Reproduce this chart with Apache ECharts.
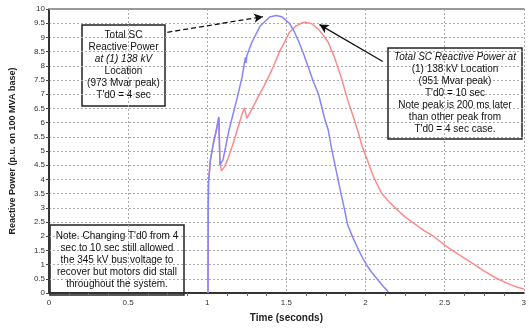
<!DOCTYPE html>
<html><head><meta charset="utf-8">
<script src="https://cdn.jsdelivr.net/npm/echarts@6/dist/echarts.min.js"></script>
<style>html,body{margin:0;padding:0;background:#fff}#c{width:529px;height:328px}</style>
</head><body><div id="c"></div>
<script>
// Time (s) and reactive power (p.u. on 100 MVA base)
const redTd10 = [[1.005,0],[1.006,2.8],[1.008,3.9],[1.02,4.7],[1.04,5.3],[1.06,5.8],[1.073,6.2],[1.08,4.6],[1.09,4.3],[1.11,4.45],[1.13,4.72],[1.16,5.2],[1.19,5.75],[1.22,6.3],[1.235,6.52],[1.25,6.15],[1.28,6.45],[1.32,6.89],[1.36,7.3],[1.394,7.69],[1.42,8.0],[1.456,8.49],[1.49,8.85],[1.518,9.17],[1.56,9.4],[1.6,9.52],[1.62,9.53],[1.66,9.48],[1.7,9.3],[1.73,9.1],[1.764,8.83],[1.8,8.35],[1.846,7.6],[1.887,6.8],[1.92,6.25],[1.949,5.75],[1.98,5.15],[2.01,4.7],[2.05,4.1],[2.103,3.5],[2.15,3.2],[2.195,2.96],[2.25,2.68],[2.308,2.44],[2.37,2.2],[2.431,1.99],[2.513,1.63],[2.59,1.35],[2.667,1.08],[2.75,0.77],[2.83,0.51],[2.9,0.33],[2.96,0.2],[3.0,0.14]];
const blueTd4 = [[1.005,0],[1.006,2.8],[1.008,3.9],[1.02,4.7],[1.04,5.3],[1.06,5.8],[1.073,6.2],[1.08,4.5],[1.10,4.7],[1.138,5.75],[1.19,6.89],[1.22,7.6],[1.235,8.1],[1.241,8.3],[1.245,8.1],[1.25,8.35],[1.282,8.83],[1.333,9.39],[1.394,9.72],[1.436,9.77],[1.47,9.73],[1.518,9.5],[1.55,9.2],[1.58,8.83],[1.61,8.4],[1.641,7.91],[1.67,7.45],[1.703,7.0],[1.744,6.09],[1.764,5.75],[1.785,5.1],[1.815,4.3],[1.846,3.47],[1.865,3.0],[1.887,2.4],[1.92,1.95],[1.949,1.6],[1.98,1.25],[2.01,0.96],[2.04,0.72],[2.072,0.5],[2.11,0.25],[2.144,0.04]];
const xTitle = 'Time (seconds)';
const yTitle = 'Reactive Power (p.u. on 100 MVA base)';
const box1Lines = ['Total SC','Reactive Power','at (1) 138 kV','Location','(973 Mvar peak)',"T'd0 = 4 sec"];
const box2Lines = ['Total SC Reactive Power at','(1) 138 kV Location','(951 Mvar peak)',"T'd0 = 10 sec",'Note peak is 200 ms later','than other peak from',"T'd0 = 4 sec case."];
const box3Lines = ["Note. Changing T'd0 from 4",'sec to 10 sec still allowed','the 345 kV bus voltage to','recover but motors did stall','throughout the system.'];
const arrow1 = [[0.748,9.18],[1.352,9.73]];
const arrow2 = [[2.109,8.15],[1.709,9.45]];

const FONT = '"Liberation Sans", Arial, sans-serif';
function box(x,y,w,h,lines,italicIdx,lh,top){
  const ch=[{type:'rect',shape:{x:x,y:y,width:w,height:h},style:{fill:'#fff',stroke:'#222',lineWidth:1.5}}];
  lines.forEach((t,i)=>ch.push({type:'text',z:2,x:x+w/2,y:y+top+i*lh,style:{text:t,fill:'#111',font:(italicIdx.includes(i)?'italic ':'')+'10px '+FONT,textAlign:'center',textVerticalAlign:'middle'}}));
  return {type:'group',zlevel:1,z:100,children:ch};
}
const chart = echarts.init(document.getElementById('c'),null,{renderer:'canvas'});
chart.setOption({
  animation:false,
  grid:{left:43.5,right:-2,top:9,bottom:26.5},
  xAxis:[{type:'value',min:0,max:3,interval:0.5,
    axisLine:{lineStyle:{color:'#333',width:2}},
    axisTick:{show:false},
    minorTick:{show:true,splitNumber:4,length:3,lineStyle:{color:'#666'}},
    axisLabel:{fontSize:8,color:'#333',margin:6,fontFamily:FONT},
    splitLine:{show:true,lineStyle:{color:'#aaa',type:[2,2],width:1}},
    name:xTitle,nameLocation:'middle',nameGap:20,
    nameTextStyle:{fontSize:10,fontWeight:'bold',color:'#222',fontFamily:FONT}},
   {type:'value',position:'top',min:0,max:3,axisLine:{show:true,lineStyle:{color:'#999',width:2}},axisTick:{show:false},axisLabel:{show:false},splitLine:{show:false}}],
  yAxis:{type:'value',min:0,max:10,interval:0.5,
    axisLine:{show:true,lineStyle:{color:'#333',width:2}},
    axisTick:{show:true,length:3,lineStyle:{color:'#444'}},
    axisLabel:{fontSize:8,color:'#333',margin:4,fontFamily:FONT,formatter:v=>String(+v.toFixed(1))},
    splitLine:{show:true,lineStyle:{color:'#aaa',type:[2,2],width:1}},
    name:yTitle,nameLocation:'middle',nameGap:32,
    nameTextStyle:{fontSize:9,fontWeight:'bold',color:'#222',fontFamily:FONT}},
  series:[
    {type:'line',data:redTd10,showSymbol:false,lineStyle:{color:'#ff8a8a',width:1.5},z:2,
     markLine:{silent:true,symbol:['none','arrow'],symbolSize:[7,9],label:{show:false},
       lineStyle:{color:'#111',width:1.3,type:'solid'},
       data:[[{coord:arrow2[0]},{coord:arrow2[1]}]]}},
    {type:'line',data:blueTd4,showSymbol:false,lineStyle:{color:'#8585ff',width:1.5},z:3,
     markLine:{silent:true,symbol:['none','arrow'],symbolSize:[7,9],label:{show:false},
       lineStyle:{color:'#111',width:1.3,type:[5,3]},
       data:[[{coord:arrow1[0]},{coord:arrow1[1]}]]}}
  ],
  graphic:[
    box(82,25,83,81,box1Lines,[2],12,10),
    box(388,48,134,91,box2Lines,[0],12,9),
    box(50,225,134,70,box3Lines,[],12,11)
  ]
});
</script></body></html>
